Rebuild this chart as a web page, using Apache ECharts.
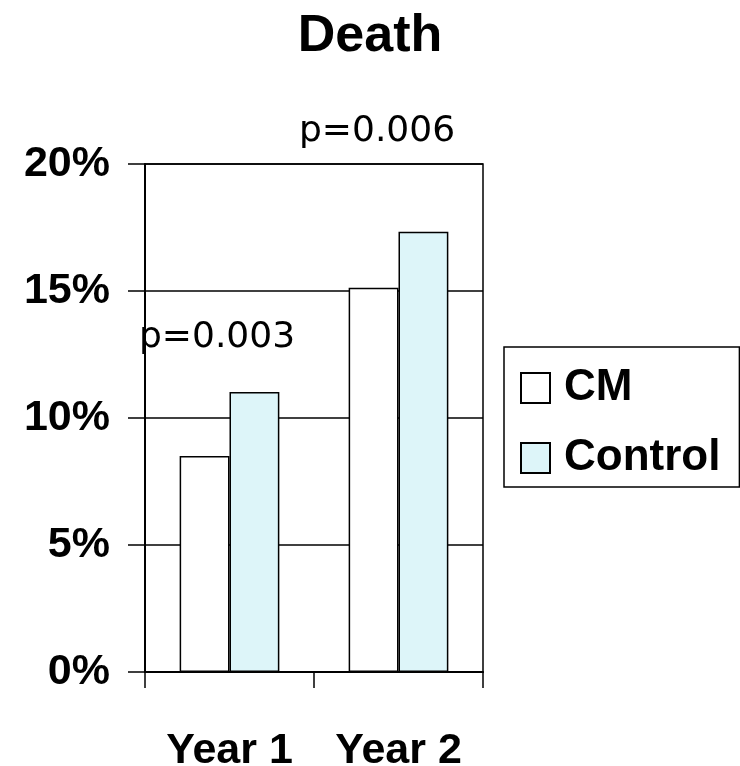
<!DOCTYPE html>
<html>
<head>
<meta charset="utf-8">
<script src="https://cdn.jsdelivr.net/npm/echarts@6/dist/echarts.min.js"></script>
<style>
	html, body { margin: 0; padding: 0; background: #fff; }
	#chart { width: 740px; height: 766px; }
</style>
</head>
<body>
<div id="chart"></div>
<script>
const categories = ["Year 1", "Year 2"];
const cmValues = [8.5, 15.13];
const controlValues = [11.02, 17.33];
const yTicks = { min: 0, max: 20, interval: 5 };
const pLabels = ["p=0.003", "p=0.006"];

const chart = echarts.init(document.getElementById("chart"));
chart.setOption({
	animation: false,
	backgroundColor: "#fff",
	title: {
		text: "Death",
		left: "center",
		top: 6,
		textStyle: {
			fontFamily: "Liberation Sans",
			fontWeight: "bold",
			fontSize: 52,
			color: "#000"
		}
	},
	legend: {
		orient: "vertical",
		left: 504,
		top: 347,
		padding: [19, 19, 7, 16],
		itemGap: 26,
		itemWidth: 29,
		itemHeight: 30,
		icon: "rect",
		borderColor: "#000",
		borderWidth: 1.5,
		textStyle: {
			fontFamily: "Liberation Sans",
			fontWeight: "bold",
			fontSize: 44,
			color: "#000",
			padding: [0, 0, 0, 9]
		},
		data: ["CM", "Control"]
	},
	grid: {
		left: 145,
		right: 257,
		top: 164,
		bottom: 94,
		outerBoundsMode: "none",
		show: true,
		borderColor: "#000",
		borderWidth: 1.5,
		backgroundColor: "transparent"
	},
	xAxis: {
		type: "category",
		data: categories,
		axisLine: { lineStyle: { color: "#000", width: 2 } },
		axisTick: { show: true, length: 16, lineStyle: { color: "#000", width: 1.5 } },
		axisLabel: {
			margin: 58,
			fontFamily: "Liberation Sans",
			fontWeight: "bold",
			fontSize: 43,
			color: "#000"
		}
	},
	yAxis: {
		type: "value",
		min: yTicks.min,
		max: yTicks.max,
		interval: yTicks.interval,
		axisLine: { show: true, lineStyle: { color: "#000", width: 2 } },
		axisTick: { show: true, length: 17, lineStyle: { color: "#000", width: 1.5 } },
		splitLine: { show: true, lineStyle: { color: "#000", width: 1.5 } },
		axisLabel: {
			margin: 35,
			formatter: "{value}%",
			fontFamily: "Liberation Sans",
			fontWeight: "bold",
			fontSize: 43,
			color: "#000"
		}
	},
	series: [
		{
			name: "CM",
			type: "bar",
			barGap: "0%",
			barCategoryGap: "41%",
			itemStyle: { color: "#fff", borderColor: "#000", borderWidth: 1.5 },
			data: cmValues
		},
		{
			name: "Control",
			type: "bar",
			itemStyle: { color: "#ddf5f9", borderColor: "#000", borderWidth: 1.5 },
			data: controlValues
		}
	],
	graphic: [
		{
			type: "text",
			left: 139,
			top: 320,
			style: { text: pLabels[0], font: "36px 'DejaVu Sans'", fill: "#000" }
		},
		{
			type: "text",
			left: 299,
			top: 114,
			style: { text: pLabels[1], font: "36px 'DejaVu Sans'", fill: "#000" }
		}
	]
});
</script>
</body>
</html>
